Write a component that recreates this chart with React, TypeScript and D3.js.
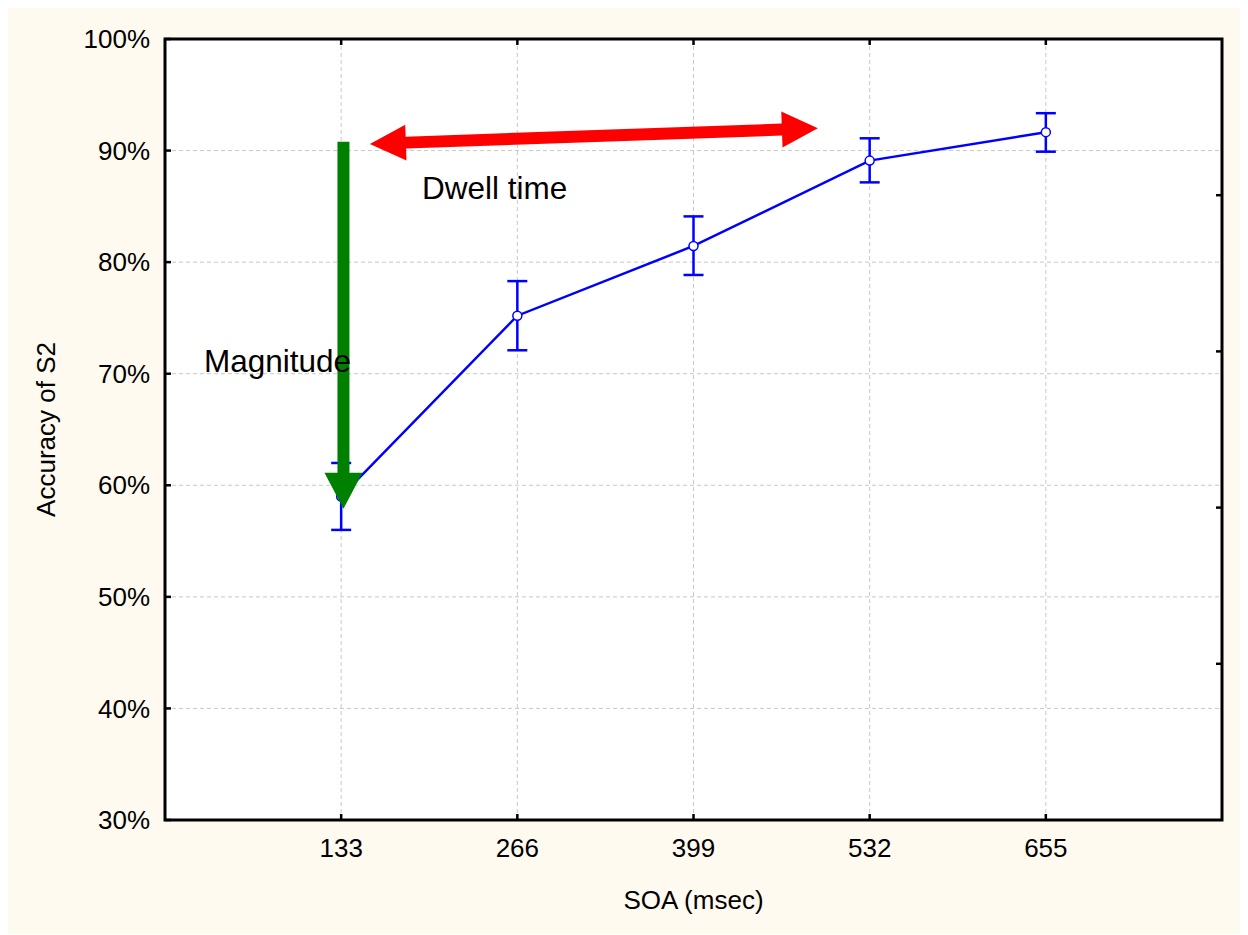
import * as d3 from 'd3';

// SOA conditions (msec) and accuracy of S2 (%)
const soaLabels = ['133', '266', '399', '532', '655'];
const accMean = [59.0, 75.2, 81.45, 89.1, 91.65];
const accLow = [56.0, 72.1, 78.85, 87.15, 89.9];
const accHigh = [62.0, 78.3, 84.1, 91.1, 93.35];
const yTicks = [30, 40, 50, 60, 70, 80, 90, 100];

// annotation arrows, in data units (x = category slot, y = %)
const dwellArrow = { x0: 1.163, y0: 90.6, x1: 3.706, y1: 92.0 };
const magnitudeArrow = { x0: 1.013, y0: 90.8, x1: 1.013, y1: 57.9 };

const W = 1232;
const H = 926;
const margin = { top: 31, right: 18, bottom: 114, left: 157 };
const FONT = 'Arial, "Liberation Sans", Helvetica, sans-serif';

// fat arrow polygon from (ax,ay) to (bx,by)
function arrowPath(ax: number, ay: number, bx: number, by: number, shaft: number, headLen: number, headHalf: number, both: boolean) {
  const dx = bx - ax;
  const dy = by - ay;
  const len = Math.hypot(dx, dy);
  const ux = dx / len;
  const uy = dy / len;
  const nx = -uy;
  const ny = ux;
  const s = shaft / 2;
  const p = (t: number, o: number) => [ax + ux * t + nx * o, ay + uy * t + ny * o];
  const pts: number[][] = [];
  if (both) {
    pts.push(p(0, 0), p(headLen, headHalf), p(headLen, s));
  } else {
    pts.push(p(0, s));
  }
  pts.push(p(len - headLen, s), p(len - headLen, headHalf), p(len, 0), p(len - headLen, -headHalf), p(len - headLen, -s));
  if (both) {
    pts.push(p(headLen, -s), p(headLen, -headHalf));
  } else {
    pts.push(p(0, -s));
  }
  return 'M' + pts.map(q => q.join(',')).join('L') + 'Z';
}

export default function App() {
  const x = d3.scaleLinear().domain([0, soaLabels.length + 1]).range([margin.left, W - margin.right]);
  const y = d3.scaleLinear().domain([30, 100]).range([H - margin.bottom, margin.top]);
  const yRight = d3.scaleLinear().domain([0, 5]).range([H - margin.bottom, margin.top]);

  const x0 = margin.left;
  const x1 = W - margin.right;
  const y0 = margin.top;
  const y1 = H - margin.bottom;

  const pts = accMean.map((v, i) => ({ cx: x(i + 1), cy: y(v), lo: y(accLow[i]), hi: y(accHigh[i]) }));
  const line = d3.line<{ cx: number; cy: number }>().x(d => d.cx).y(d => d.cy);

  const da = dwellArrow;
  const ma = magnitudeArrow;

  return (
    <svg width={W} height={H} style={{ display: 'block', fontFamily: FONT }}>
      <rect x={0} y={0} width={W} height={H} fill="#fffaef" />
      <rect x={x0} y={y0} width={x1 - x0} height={y1 - y0} fill="#ffffff" />

      {/* grid */}
      {yTicks.slice(1, -1).map(t => (
        <line key={'gy' + t} x1={x0} x2={x1} y1={y(t)} y2={y(t)} stroke="#c8c8c8" strokeWidth={1} strokeDasharray="4,3" />
      ))}
      {soaLabels.map((s, i) => (
        <line key={'gx' + s} x1={x(i + 1)} x2={x(i + 1)} y1={y0} y2={y1} stroke="#c8c8c8" strokeWidth={1} strokeDasharray="4,3" />
      ))}

      {/* ticks, inward */}
      {yTicks.map(t => (
        <line key={'ty' + t} x1={x0} x2={x0 + 6} y1={y(t)} y2={y(t)} stroke="#000" strokeWidth={2.5} />
      ))}
      {d3.range(1, 5).map(k => (
        <line key={'tr' + k} x1={x1 - 6} x2={x1} y1={yRight(k)} y2={yRight(k)} stroke="#000" strokeWidth={2.5} />
      ))}
      {soaLabels.map((s, i) => (
        <g key={'tx' + s}>
          <line x1={x(i + 1)} x2={x(i + 1)} y1={y1} y2={y1 - 6} stroke="#000" strokeWidth={2.5} />
          <line x1={x(i + 1)} x2={x(i + 1)} y1={y0} y2={y0 + 6} stroke="#000" strokeWidth={2.5} />
        </g>
      ))}

      <rect x={x0} y={y0} width={x1 - x0} height={y1 - y0} fill="none" stroke="#000" strokeWidth={3} />

      {/* tick labels */}
      {yTicks.map(t => (
        <text key={'ly' + t} x={x0 - 15} y={y(t)} dy="0.35em" textAnchor="end" fontSize={26} fill="#000">{t}%</text>
      ))}
      {soaLabels.map((s, i) => (
        <text key={'lx' + s} x={x(i + 1)} y={y1 + 37} textAnchor="middle" fontSize={26} fill="#000">{s}</text>
      ))}

      {/* axis titles */}
      <text x={(x0 + x1) / 2} y={H - 25} textAnchor="middle" fontSize={26} fill="#000">SOA (msec)</text>
      <text transform={`translate(38,${(y0 + y1) / 2}) rotate(-90)`} x={0} y={0} dy="0.35em" textAnchor="middle" fontSize={26} fill="#000">Accuracy of S2</text>

      {/* series */}
      <path d={line(pts) || ''} fill="none" stroke="#0000ff" strokeWidth={2.5} />
      {pts.map((p, i) => (
        <g key={'e' + i} stroke="#0000ff" strokeWidth={2.5}>
          <line x1={p.cx} x2={p.cx} y1={p.lo} y2={p.hi} />
          <line x1={p.cx - 10} x2={p.cx + 10} y1={p.lo} y2={p.lo} />
          <line x1={p.cx - 10} x2={p.cx + 10} y1={p.hi} y2={p.hi} />
        </g>
      ))}
      {pts.map((p, i) => (
        <circle key={'c' + i} cx={p.cx} cy={p.cy} r={4.5} fill="#ffffff" stroke="#0000ff" strokeWidth={1.5} />
      ))}

      {/* annotations */}
      <path d={arrowPath(x(da.x0), y(da.y0), x(da.x1), y(da.y1), 12, 36, 18, true)} fill="#ff0000" />
      <path d={arrowPath(x(ma.x0), y(ma.y0), x(ma.x1), y(ma.y1), 12, 36, 19, false)} fill="#008000" />
      <text x={414} y={191} fontSize={31.5} fill="#000">Dwell time</text>
      <text x={196} y={364} fontSize={31.5} fill="#000">Magnitude</text>
    </svg>
  );
}
